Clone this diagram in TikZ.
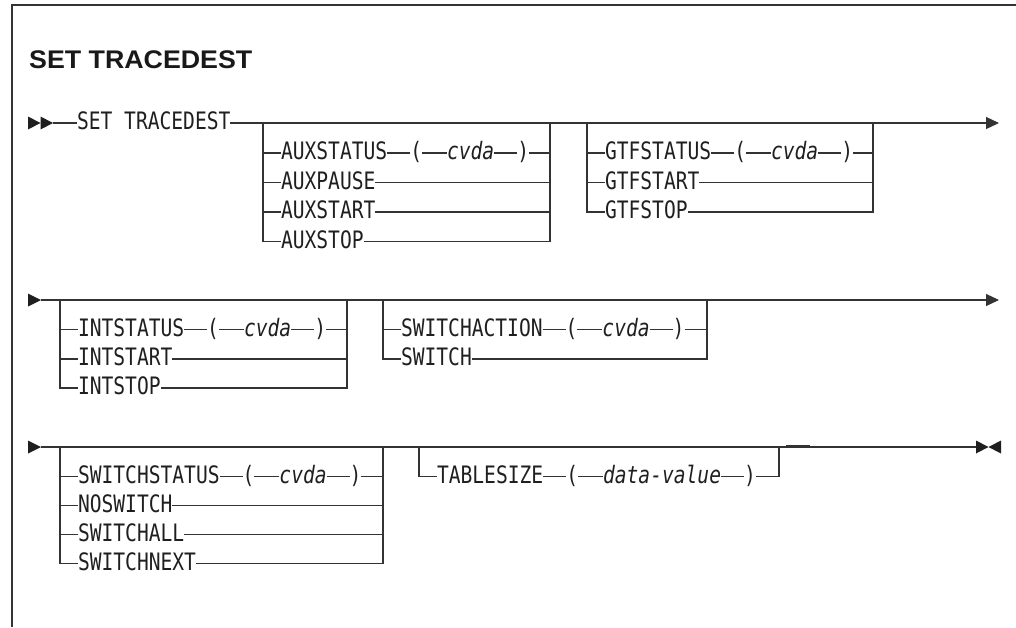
\documentclass[tikz,border=0pt]{standalone}
\usepackage{fontspec}
\usetikzlibrary{positioning,arrows.meta}
\newfontfamily\railfont[FakeStretch=0.817]{DejaVu Sans Mono}
\newfontfamily\titlefont[FakeStretch=1.05]{Liberation Sans}
\tikzset{
  rail/.style={line width=1.2pt, draw=black!80},
  kw/.style={font=\railfont\fontsize{24}{28}\selectfont, inner sep=0pt, outer sep=0pt,
             text height=15pt, text depth=1.6pt, anchor=west, text=black!88},
  var/.style={kw, font=\railfont\itshape\fontsize{24}{28}\selectfont},
  tri/.style={fill=black!88},
  endarrow/.style={-{Triangle[length=13pt,width=12pt]}},
}
\begin{document}
\begin{tikzpicture}[x=1pt,y=-1pt]
\useasboundingbox (0,0) rectangle (1016,627);
% frame
\coordinate (fb) at (12,627); \coordinate (fc) at (12,5); \coordinate (fr) at (1016,5);
\draw[rail] (fb) -- (fc) -- (fr);
% title
\node[font=\titlefont\bfseries\fontsize{25.5}{30}\selectfont, anchor=base west, inner sep=0pt, text=black!90] (title) at (29,68) {SET TRACEDEST};

% ===== Row 1 =====
\coordinate (s1) at (28,123);
\coordinate (s1e) at (53,123);
\fill[tri,shift={(s1)}] (0,-6.5) -- (12.5,0) -- (0,6.5) -- cycle;
\fill[tri,shift={(s1)}] (12.5,-6.5) -- (25,0) -- (12.5,6.5) -- cycle;
\node[kw] (cmd) at (77,123) {SET TRACEDEST};
\coordinate (e1) at (999,123);
\draw[rail] (s1e) -- (cmd.west);
\draw[rail,endarrow] (cmd.east) -- (e1);

% AUX group
\coordinate (aL) at (263,123); \coordinate (aR) at (550,123);
\node[kw] (auxst) at (281,153) {AUXSTATUS};
\node[kw, right=23pt of auxst] (auxop) {(};
\node[var, right=25pt of auxop] (auxv) {cvda};
\node[kw, right=23pt of auxv] (auxcp) {)};
\node[kw] (auxpa) at (281,182.5) {AUXPAUSE};
\node[kw] (auxsa) at (281,212) {AUXSTART};
\node[kw] (auxso) at (281,241.5) {AUXSTOP};
\draw[rail] (aL) |- (auxso.west);
\draw[rail] (aR) |- (auxso.east);
\foreach \n in {auxst,auxpa,auxsa} \draw[rail] (\n.west -| aL) -- (\n.west);
\draw[rail] (auxst) -- (auxop);
\draw[rail] (auxop) -- (auxv);
\draw[rail] (auxv) -- (auxcp);
\foreach \n in {auxcp,auxpa,auxsa} \draw[rail] (\n.east) -- (\n.east -| aR);

% GTF group
\coordinate (gL) at (587,123); \coordinate (gR) at (873,123);
\node[kw] (gtfst) at (605,153) {GTFSTATUS};
\node[kw, right=23pt of gtfst] (gtfop) {(};
\node[var, right=25pt of gtfop] (gtfv) {cvda};
\node[kw, right=23pt of gtfv] (gtfcp) {)};
\node[kw] (gtfsa) at (605,182.5) {GTFSTART};
\node[kw] (gtfso) at (605,212) {GTFSTOP};
\draw[rail] (gL) |- (gtfso.west);
\draw[rail] (gR) |- (gtfso.east);
\foreach \n in {gtfst,gtfsa} \draw[rail] (\n.west -| gL) -- (\n.west);
\draw[rail] (gtfst) -- (gtfop);
\draw[rail] (gtfop) -- (gtfv);
\draw[rail] (gtfv) -- (gtfcp);
\foreach \n in {gtfcp,gtfsa} \draw[rail] (\n.east) -- (\n.east -| gR);

% ===== Row 2 =====
\coordinate (s2) at (28,300);
\coordinate (s2e) at (41,300);
\coordinate (e2) at (999,300);
\fill[tri,shift={(s2)}] (0,-6.5) -- (13,0) -- (0,6.5) -- cycle;
\draw[rail,endarrow] (s2e) -- (e2);

% INT group
\coordinate (iL) at (60,300); \coordinate (iR) at (347,300);
\node[kw] (intst) at (78,329.5) {INTSTATUS};
\node[kw, right=23pt of intst] (intop) {(};
\node[var, right=25pt of intop] (intv) {cvda};
\node[kw, right=23pt of intv] (intcp) {)};
\node[kw] (intsa) at (78,359) {INTSTART};
\node[kw] (intso) at (78,388) {INTSTOP};
\draw[rail] (iL) |- (intso.west);
\draw[rail] (iR) |- (intso.east);
\foreach \n in {intst,intsa} \draw[rail] (\n.west -| iL) -- (\n.west);
\draw[rail] (intst) -- (intop);
\draw[rail] (intop) -- (intv);
\draw[rail] (intv) -- (intcp);
\foreach \n in {intcp,intsa} \draw[rail] (\n.east) -- (\n.east -| iR);

% SWITCHACTION group
\coordinate (wL) at (383,300); \coordinate (wR) at (707,300);
\node[kw] (swa) at (401,329.5) {SWITCHACTION};
\node[kw, right=23pt of swa] (swaop) {(};
\node[var, right=25pt of swaop] (swav) {cvda};
\node[kw, right=23pt of swav] (swacp) {)};
\node[kw] (sw) at (401,359) {SWITCH};
\draw[rail] (wL) |- (sw.west);
\draw[rail] (wR) |- (sw.east);
\draw[rail] (swa.west -| wL) -- (swa.west);
\draw[rail] (swa) -- (swaop);
\draw[rail] (swaop) -- (swav);
\draw[rail] (swav) -- (swacp);
\draw[rail] (swacp.east) -- (swacp.east -| wR);

% ===== Row 3 =====
\coordinate (s3) at (28,447);
\coordinate (s3e) at (41,447);
\coordinate (e3) at (976,447);
\fill[tri,shift={(s3)}] (0,-6.5) -- (13,0) -- (0,6.5) -- cycle;
\draw[rail] (s3e) -- (e3);
\fill[tri,shift={(e3)}] (0,-6.5) -- (12.5,0) -- (0,6.5) -- cycle;
\fill[tri,shift={(e3)}] (25,-6.5) -- (12.5,0) -- (25,6.5) -- cycle;

% SWITCHSTATUS group
\coordinate (tL) at (60,447); \coordinate (tR) at (383,447);
\node[kw] (sws) at (78,476.5) {SWITCHSTATUS};
\node[kw, right=23pt of sws] (swsop) {(};
\node[var, right=25pt of swsop] (swsv) {cvda};
\node[kw, right=23pt of swsv] (swscp) {)};
\node[kw] (nosw) at (78,505.5) {NOSWITCH};
\node[kw] (swall) at (78,534.5) {SWITCHALL};
\node[kw] (swnx) at (78,563.5) {SWITCHNEXT};
\draw[rail] (tL) |- (swnx.west);
\draw[rail] (tR) |- (swnx.east);
\foreach \n in {sws,nosw,swall} \draw[rail] (\n.west -| tL) -- (\n.west);
\draw[rail] (sws) -- (swsop);
\draw[rail] (swsop) -- (swsv);
\draw[rail] (swsv) -- (swscp);
\foreach \n in {swscp,nosw,swall} \draw[rail] (\n.east) -- (\n.east -| tR);

% TABLESIZE group
\coordinate (zL) at (419,447); \coordinate (zR) at (779,447);
\node[kw] (tbl) at (437,476.5) {TABLESIZE};
\node[kw, right=23pt of tbl] (tblop) {(};
\node[var, right=25pt of tblop] (tblv) {data-value};
\node[kw, right=23pt of tblv] (tblcp) {)};
\draw[rail] (zL) |- (tbl.west);
\draw[rail] (tbl) -- (tblop);
\draw[rail] (tblop) -- (tblv);
\draw[rail] (tblv) -- (tblcp);
\draw[rail] (tblcp.east) -| (zR);
\coordinate (dA) at (786,445.8); \coordinate (dB) at (810,445.8);
\draw[rail,line width=1.8pt] (dA) -- (dB);
\end{tikzpicture}
\end{document}
